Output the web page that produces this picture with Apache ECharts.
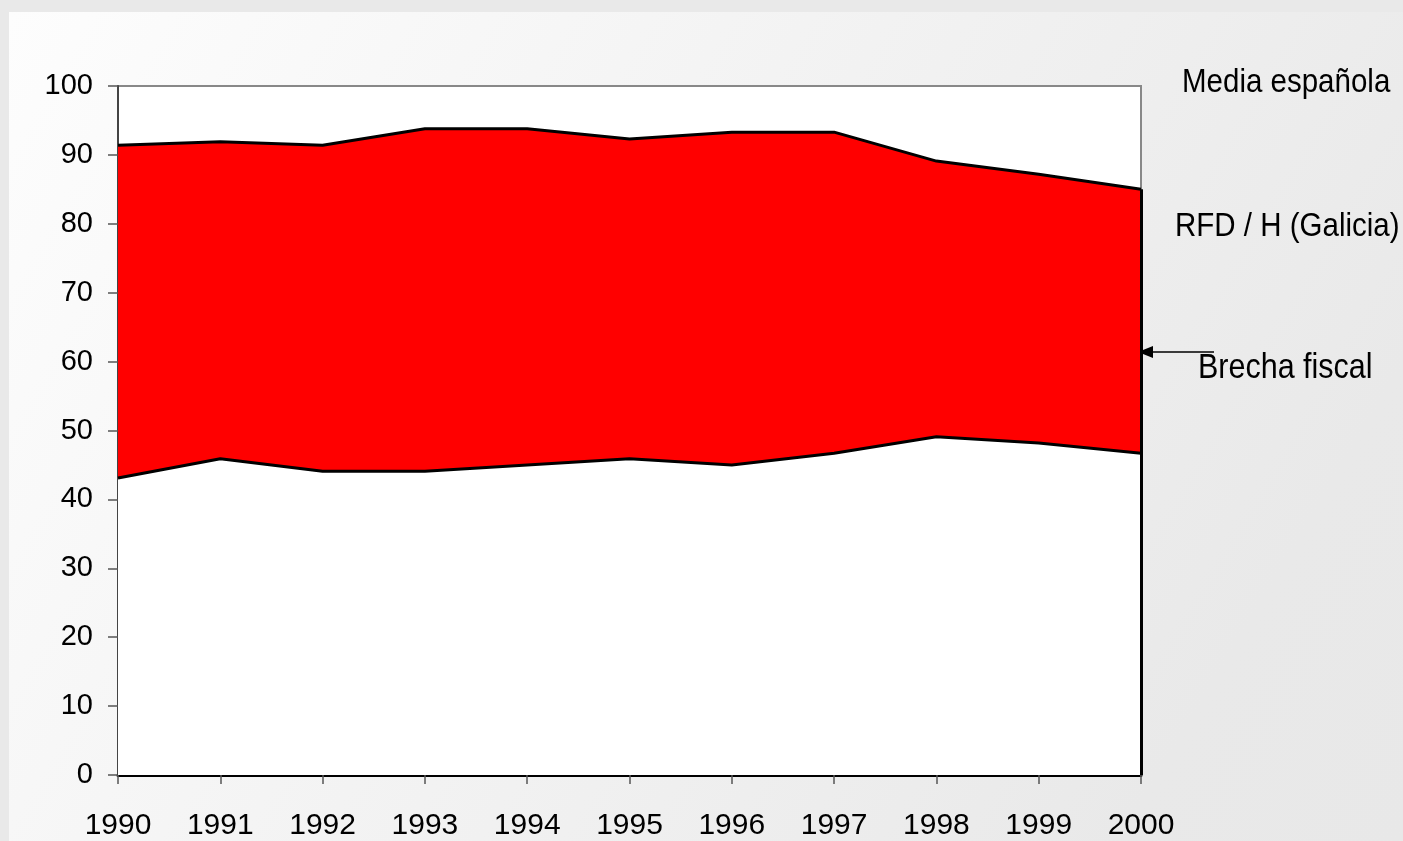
<!DOCTYPE html>
<html>
<head>
<meta charset="utf-8">
<script src="https://cdn.jsdelivr.net/npm/echarts@6/dist/echarts.min.js"></script>
<style>
  html, body { margin: 0; padding: 0; background: #e9e9e9; }
  #chart { width: 1403px; height: 841px; }
</style>
</head>
<body>
<div id="chart"></div>
<script>
// datos
const years = ['1990', '1991', '1992', '1993', '1994', '1995', '1996', '1997', '1998', '1999', '2000']
// RFD / H (Galicia), % de la media
const rfdGalicia = [43.1, 45.9, 44.1, 44.1, 45.0, 45.9, 45.0, 46.7, 49.1, 48.2, 46.7]
// línea superior
const upperLine = [91.4, 91.9, 91.4, 93.8, 93.8, 92.3, 93.3, 93.3, 89.1, 87.2, 85.0]
const yTicks = [0, 10, 20, 30, 40, 50, 60, 70, 80, 90, 100]

// brecha fiscal = diferencia entre las dos líneas
const brecha = upperLine.map((v, i) => +(v - rfdGalicia[i]).toFixed(2))

const font = '"Liberation Sans", Arial, sans-serif'
const chart = echarts.init(document.getElementById('chart'))

// etiquetas de la derecha
const sideLabel = (text, x, y, size) => ({
  type: 'text',
  x: x,
  y: y,
  scaleY: 1.12,
  style: { text: text, font: size + 'px ' + font, fill: '#000', textVerticalAlign: 'middle' }
})

chart.setOption({
  backgroundColor: '#e9e9e9',
  animation: false,
  graphic: [
    {
      type: 'rect',
      z: -10,
      shape: { x: 9, y: 12, width: 1394, height: 829 },
      style: {
        fill: new echarts.graphic.LinearGradient(0, 0, 1, 1, [
          { offset: 0, color: '#fdfdfd' },
          { offset: 0.85, color: '#e9e9e9' },
          { offset: 1, color: '#e8e8e8' }
        ])
      }
    },
    sideLabel('Media española', 1182, 83, 29.5),
    sideLabel('RFD / H (Galicia)', 1175, 227, 29.5),
    sideLabel('Brecha fiscal', 1198, 369, 30.5),
    {
      type: 'line',
      shape: { x1: 1150, y1: 352, x2: 1214, y2: 352 },
      style: { stroke: '#000', lineWidth: 1.5 }
    },
    {
      type: 'polygon',
      shape: { points: [[1138, 352], [1153, 346], [1153, 358]] },
      style: { fill: '#000' }
    }
  ],
  grid: {
    left: 118,
    top: 86,
    right: 262,
    bottom: 66,
    show: true,
    backgroundColor: '#ffffff',
    borderColor: '#888888',
    borderWidth: 2
  },
  xAxis: {
    type: 'category',
    data: years,
    boundaryGap: false,
    axisLine: { lineStyle: { color: '#000', width: 3 } },
    axisTick: { show: true, length: 9, lineStyle: { color: '#555', width: 1.5 } },
    axisLabel: { color: '#000', fontSize: 30, fontFamily: font, margin: 36 },
    splitLine: { show: false }
  },
  yAxis: {
    type: 'value',
    min: 0,
    max: 100,
    interval: 10,
    axisLine: { show: true, lineStyle: { color: '#444', width: 2 } },
    axisTick: { show: true, length: 10, lineStyle: { color: '#555', width: 1.5 } },
    axisLabel: {
      color: '#000', fontSize: 29, fontFamily: font, margin: 25,
      formatter: v => (yTicks.includes(v) ? String(v) : '')
    },
    splitLine: { show: false }
  },
  series: [
    {
      name: 'RFD / H (Galicia)',
      type: 'line',
      stack: 'total',
      data: rfdGalicia,
      symbol: 'none',
      lineStyle: { color: '#000', width: 3 },
      areaStyle: { color: '#ffffff', opacity: 1 },
      z: 4
    },
    {
      name: 'Brecha fiscal',
      type: 'line',
      stack: 'total',
      data: brecha,
      symbol: 'none',
      lineStyle: { color: '#000', width: 3 },
      areaStyle: { color: '#ff0000', opacity: 1 },
      z: 3,
      markLine: {
        silent: true,
        symbol: 'none',
        label: { show: false },
        lineStyle: { color: '#000', width: 3, type: 'solid' },
        data: [[
          { coord: [years[years.length - 1], 0] },
          { coord: [years[years.length - 1], upperLine[upperLine.length - 1]] }
        ]]
      }
    }
  ]
})

window.addEventListener('resize', () => chart.resize())
</script>
</body>
</html>
